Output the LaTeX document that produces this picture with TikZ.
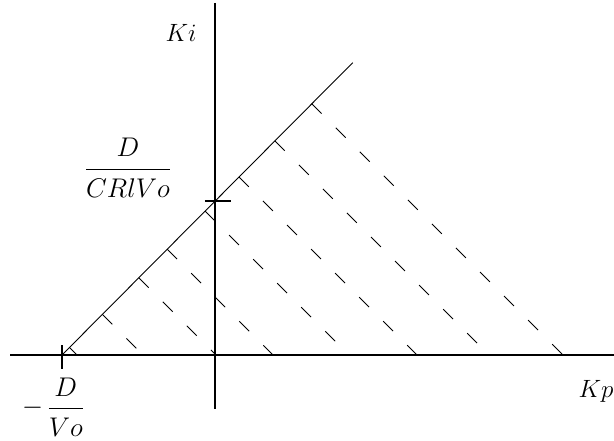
\RequirePackage{fix-cm}
\documentclass[tikz,border=0pt]{standalone}
\usepackage{amsmath}
\begin{document}
\begin{tikzpicture}[x=1pt,y=-1pt,
  axis/.style={line width=1.6pt},
  diagline/.style={line width=0.9pt},
  hatch/.style={line width=0.9pt, dash pattern=on 14pt off 20pt},
  tickmark/.style={line width=1.4pt},
  lbl/.style={inner sep=0pt, anchor=base, font=\fontsize{25}{30}\selectfont},
  fraclbl/.style={inner sep=0pt, anchor=base, font=\fontsize{27}{32}\selectfont}]
\useasboundingbox (0,0) rectangle (614,441);
% axes
\coordinate (O) at (215,355);
\coordinate (xl) at (10,355);
\coordinate (xr) at (614,355);
\coordinate (yt) at (215,3);
\coordinate (yb) at (215,409);
\draw[axis] (xl) -- (xr);
\draw[axis] (yt) -- (yb);
% boundary line
\coordinate (A) at (62,355);
\coordinate (B) at (352.7,62.7);
\draw[diagline] (A) -- (B);
\coordinate (C) at (intersection of A--B and O--yt);
% ticks
\draw[tickmark] ([yshift=10pt]A) -- ([yshift=-14pt]A);
\draw[tickmark] ([xshift=-10pt]C) -- ([xshift=16pt]C);
% hatching (dashed lines parallel, slope -1)
\foreach \xe in {77,143,216,273,349,417,489,563}{
  \pgfmathsetmacro{\xs}{(\xe+62.38)/2.0062}
  \pgfmathsetmacro{\ys}{355-(\xe-\xs)}
  \draw[hatch] (\xs,\ys) -- (\xe,355);
}
% labels
\node[lbl] (ki) at (181,42) {$Ki$};
\node[lbl] (kp) at (596,397) {$Kp$};
\node[fraclbl] (f1) at (128,175.75)
  {$\dfrac{\rule[-9.2pt]{0pt}{9.2pt}D}{\rule{0pt}{25.2pt}CRlVo}$};
\node[fraclbl] (f2) at (53,414.75)
  {$-\,\dfrac{\rule[-8pt]{0pt}{8pt}D}{\rule{0pt}{25.2pt}Vo}$};
\end{tikzpicture}
\end{document}
